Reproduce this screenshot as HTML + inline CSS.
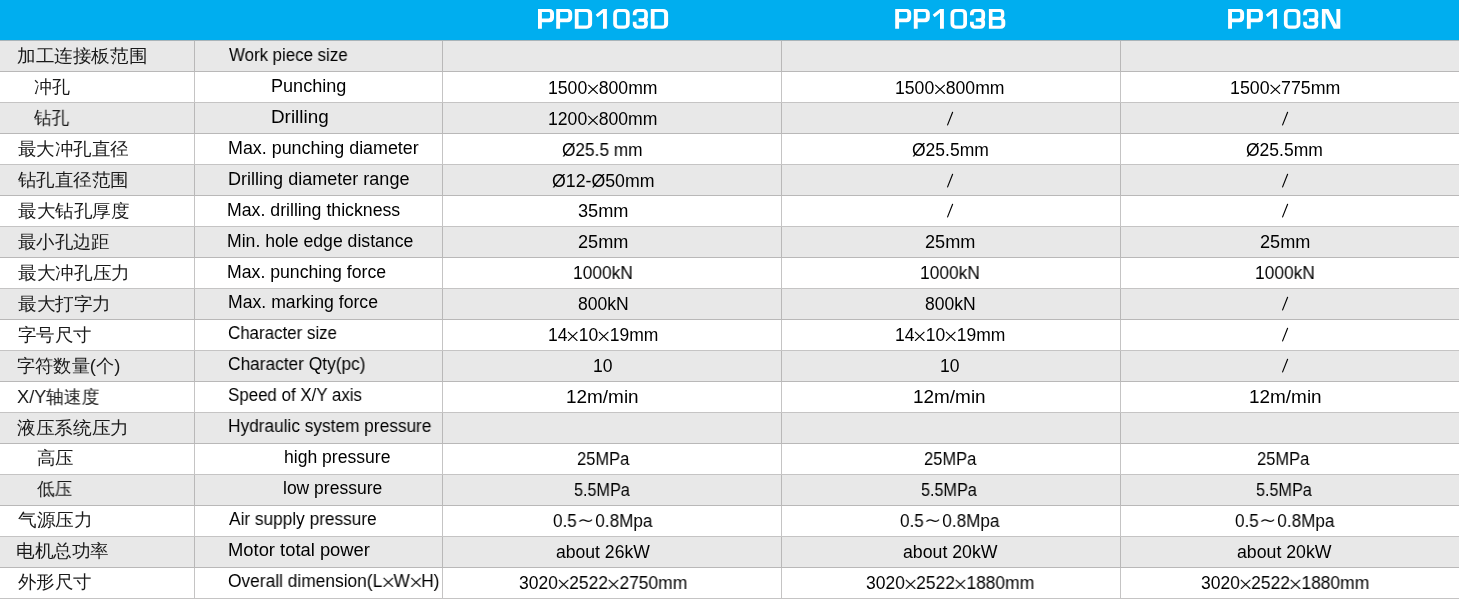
<!DOCTYPE html>
<html><head><meta charset="utf-8"><style>
html,body{margin:0;padding:0;background:#fff;width:1460px;height:601px;overflow:hidden;position:relative}
.hdr{position:absolute;left:0;top:0;width:1459px;height:40px;background:#00aeef}
.row{position:absolute;left:0;width:1459px;height:31px;background:#e8e8e8}
.hl{position:absolute;left:0;width:1459px;height:1px;background:#c4c4c4}
.vl{position:absolute;top:40px;width:1px;height:559px;background:#c4c4c4}
.t{position:absolute;white-space:nowrap;font-family:"Liberation Sans",sans-serif;color:#000000;line-height:20px;transform-origin:0 0;will-change:transform}
.en,.da{font-size:17.5px}
.xs{vertical-align:-0.4px}
.ts{vertical-align:3.7px}
.sl{vertical-align:-1px}
.cn{font-size:18.3px;font-weight:400;color:#1a1a1a}
</style></head><body>
<div class="hdr"></div>

<div class="row" style="top:40px"></div>
<div class="row" style="top:102px"></div>
<div class="row" style="top:164px"></div>
<div class="row" style="top:226px"></div>
<div class="row" style="top:288px"></div>
<div class="row" style="top:350px"></div>
<div class="row" style="top:412px"></div>
<div class="row" style="top:474px"></div>
<div class="row" style="top:536px"></div>
<div class="hl" style="top:40px;background:#a9b4b9"></div>
<div class="hl" style="top:71px;background:#b9b8b8"></div>
<div class="hl" style="top:102px;background:#c5c4c4"></div>
<div class="hl" style="top:133px;background:#b9b8b8"></div>
<div class="hl" style="top:164px;background:#c5c4c4"></div>
<div class="hl" style="top:195px;background:#b9b8b8"></div>
<div class="hl" style="top:226px;background:#c5c4c4"></div>
<div class="hl" style="top:257px;background:#b9b8b8"></div>
<div class="hl" style="top:288px;background:#c5c4c4"></div>
<div class="hl" style="top:319px;background:#b9b8b8"></div>
<div class="hl" style="top:350px;background:#c5c4c4"></div>
<div class="hl" style="top:381px;background:#b9b8b8"></div>
<div class="hl" style="top:412px;background:#c5c4c4"></div>
<div class="hl" style="top:443px;background:#b9b8b8"></div>
<div class="hl" style="top:474px;background:#c5c4c4"></div>
<div class="hl" style="top:505px;background:#b9b8b8"></div>
<div class="hl" style="top:536px;background:#c5c4c4"></div>
<div class="hl" style="top:567px;background:#b9b8b8"></div>
<div class="hl" style="top:598px;background:#c5c4c4"></div>
<div class="vl" style="left:194px;top:41px;height:30px;background:#b9b8b8"></div>
<div class="vl" style="left:442px;top:41px;height:30px;background:#b9b8b8"></div>
<div class="vl" style="left:781px;top:41px;height:30px;background:#b9b8b8"></div>
<div class="vl" style="left:1120px;top:41px;height:30px;background:#b9b8b8"></div>
<div class="vl" style="left:194px;top:72px;height:30px;background:#c5c4c4"></div>
<div class="vl" style="left:442px;top:72px;height:30px;background:#c5c4c4"></div>
<div class="vl" style="left:781px;top:72px;height:30px;background:#c5c4c4"></div>
<div class="vl" style="left:1120px;top:72px;height:30px;background:#c5c4c4"></div>
<div class="vl" style="left:194px;top:103px;height:30px;background:#b9b8b8"></div>
<div class="vl" style="left:442px;top:103px;height:30px;background:#b9b8b8"></div>
<div class="vl" style="left:781px;top:103px;height:30px;background:#b9b8b8"></div>
<div class="vl" style="left:1120px;top:103px;height:30px;background:#b9b8b8"></div>
<div class="vl" style="left:194px;top:134px;height:30px;background:#c5c4c4"></div>
<div class="vl" style="left:442px;top:134px;height:30px;background:#c5c4c4"></div>
<div class="vl" style="left:781px;top:134px;height:30px;background:#c5c4c4"></div>
<div class="vl" style="left:1120px;top:134px;height:30px;background:#c5c4c4"></div>
<div class="vl" style="left:194px;top:165px;height:30px;background:#b9b8b8"></div>
<div class="vl" style="left:442px;top:165px;height:30px;background:#b9b8b8"></div>
<div class="vl" style="left:781px;top:165px;height:30px;background:#b9b8b8"></div>
<div class="vl" style="left:1120px;top:165px;height:30px;background:#b9b8b8"></div>
<div class="vl" style="left:194px;top:196px;height:30px;background:#c5c4c4"></div>
<div class="vl" style="left:442px;top:196px;height:30px;background:#c5c4c4"></div>
<div class="vl" style="left:781px;top:196px;height:30px;background:#c5c4c4"></div>
<div class="vl" style="left:1120px;top:196px;height:30px;background:#c5c4c4"></div>
<div class="vl" style="left:194px;top:227px;height:30px;background:#b9b8b8"></div>
<div class="vl" style="left:442px;top:227px;height:30px;background:#b9b8b8"></div>
<div class="vl" style="left:781px;top:227px;height:30px;background:#b9b8b8"></div>
<div class="vl" style="left:1120px;top:227px;height:30px;background:#b9b8b8"></div>
<div class="vl" style="left:194px;top:258px;height:30px;background:#c5c4c4"></div>
<div class="vl" style="left:442px;top:258px;height:30px;background:#c5c4c4"></div>
<div class="vl" style="left:781px;top:258px;height:30px;background:#c5c4c4"></div>
<div class="vl" style="left:1120px;top:258px;height:30px;background:#c5c4c4"></div>
<div class="vl" style="left:194px;top:289px;height:30px;background:#b9b8b8"></div>
<div class="vl" style="left:442px;top:289px;height:30px;background:#b9b8b8"></div>
<div class="vl" style="left:781px;top:289px;height:30px;background:#b9b8b8"></div>
<div class="vl" style="left:1120px;top:289px;height:30px;background:#b9b8b8"></div>
<div class="vl" style="left:194px;top:320px;height:30px;background:#c5c4c4"></div>
<div class="vl" style="left:442px;top:320px;height:30px;background:#c5c4c4"></div>
<div class="vl" style="left:781px;top:320px;height:30px;background:#c5c4c4"></div>
<div class="vl" style="left:1120px;top:320px;height:30px;background:#c5c4c4"></div>
<div class="vl" style="left:194px;top:351px;height:30px;background:#b9b8b8"></div>
<div class="vl" style="left:442px;top:351px;height:30px;background:#b9b8b8"></div>
<div class="vl" style="left:781px;top:351px;height:30px;background:#b9b8b8"></div>
<div class="vl" style="left:1120px;top:351px;height:30px;background:#b9b8b8"></div>
<div class="vl" style="left:194px;top:382px;height:30px;background:#c5c4c4"></div>
<div class="vl" style="left:442px;top:382px;height:30px;background:#c5c4c4"></div>
<div class="vl" style="left:781px;top:382px;height:30px;background:#c5c4c4"></div>
<div class="vl" style="left:1120px;top:382px;height:30px;background:#c5c4c4"></div>
<div class="vl" style="left:194px;top:413px;height:30px;background:#b9b8b8"></div>
<div class="vl" style="left:442px;top:413px;height:30px;background:#b9b8b8"></div>
<div class="vl" style="left:781px;top:413px;height:30px;background:#b9b8b8"></div>
<div class="vl" style="left:1120px;top:413px;height:30px;background:#b9b8b8"></div>
<div class="vl" style="left:194px;top:444px;height:30px;background:#c5c4c4"></div>
<div class="vl" style="left:442px;top:444px;height:30px;background:#c5c4c4"></div>
<div class="vl" style="left:781px;top:444px;height:30px;background:#c5c4c4"></div>
<div class="vl" style="left:1120px;top:444px;height:30px;background:#c5c4c4"></div>
<div class="vl" style="left:194px;top:475px;height:30px;background:#b9b8b8"></div>
<div class="vl" style="left:442px;top:475px;height:30px;background:#b9b8b8"></div>
<div class="vl" style="left:781px;top:475px;height:30px;background:#b9b8b8"></div>
<div class="vl" style="left:1120px;top:475px;height:30px;background:#b9b8b8"></div>
<div class="vl" style="left:194px;top:506px;height:30px;background:#c5c4c4"></div>
<div class="vl" style="left:442px;top:506px;height:30px;background:#c5c4c4"></div>
<div class="vl" style="left:781px;top:506px;height:30px;background:#c5c4c4"></div>
<div class="vl" style="left:1120px;top:506px;height:30px;background:#c5c4c4"></div>
<div class="vl" style="left:194px;top:537px;height:30px;background:#b9b8b8"></div>
<div class="vl" style="left:442px;top:537px;height:30px;background:#b9b8b8"></div>
<div class="vl" style="left:781px;top:537px;height:30px;background:#b9b8b8"></div>
<div class="vl" style="left:1120px;top:537px;height:30px;background:#b9b8b8"></div>
<div class="vl" style="left:194px;top:568px;height:30px;background:#c5c4c4"></div>
<div class="vl" style="left:442px;top:568px;height:30px;background:#c5c4c4"></div>
<div class="vl" style="left:781px;top:568px;height:30px;background:#c5c4c4"></div>
<div class="vl" style="left:1120px;top:568px;height:30px;background:#c5c4c4"></div>
<svg style="position:absolute;left:0;top:0" width="1460" height="40" viewBox="0 0 1460 40"><g fill="#fff" fill-rule="evenodd"><path transform="translate(538.0,8.9) scale(1,0.995)" d="M0,0H11.6A4.4,4.4 0 0 1 16,4.4V9A4.4,4.4 0 0 1 11.6,13.4H3.9V20H0ZM3.9,3.2H10.6A1.5,1.5 0 0 1 12.1,4.7V8.1A1.5,1.5 0 0 1 10.6,9.6H3.9Z"/><path transform="translate(556.2,8.9) scale(1,0.995)" d="M0,0H11.6A4.4,4.4 0 0 1 16,4.4V9A4.4,4.4 0 0 1 11.6,13.4H3.9V20H0ZM3.9,3.2H10.6A1.5,1.5 0 0 1 12.1,4.7V8.1A1.5,1.5 0 0 1 10.6,9.6H3.9Z"/><path transform="translate(574.8,8.9) scale(1,0.995)" d="M0,0H12.3A5,5 0 0 1 17.3,5V15A5,5 0 0 1 12.3,20H0ZM3.8,3.2H11.3A2,2 0 0 1 13.3,5.2V14.8A2,2 0 0 1 11.3,16.8H3.8Z"/><path transform="translate(595.7,8.9) scale(1,0.995)" d="M0,6L7.3,0H11.2V20H7.3V3.9L1.9,8.3Z"/><path transform="translate(613.2,8.9) scale(1,0.995)" d="M5,0H11.5A5,5 0 0 1 16.5,5V15A5,5 0 0 1 11.5,20H5A5,5 0 0 1 0,15V5A5,5 0 0 1 5,0ZM5.7,3.2H10.8A2,2 0 0 1 12.8,5.2V14.8A2,2 0 0 1 10.8,16.8H5.7A2,2 0 0 1 3.7,14.8V5.2A2,2 0 0 1 5.7,3.2Z"/><path transform="translate(632.8,8.9) scale(1,0.995)" d="M0,4.5A4.5,4.5 0 0 1 4.5,0H10.6A4.5,4.5 0 0 1 15.1,4.5V8.2Q15.1,9.6 14.3,10.9Q15.1,12.2 15.1,13.6V15.5A4.5,4.5 0 0 1 10.6,20H4.5A4.5,4.5 0 0 1 0,15.5V13H3.7V14.8A2,2 0 0 0 5.7,16.8H9.9A1.5,1.5 0 0 0 11.4,15.3V14.5A1.5,1.5 0 0 0 9.9,13H5.8V9.5H9.9A1.5,1.5 0 0 0 11.4,8V4.7A1.5,1.5 0 0 0 9.9,3.2H5.7A2,2 0 0 0 3.7,5.2V6.5H0Z"/><path transform="translate(650.8,8.9) scale(1,0.995)" d="M0,0H12.3A5,5 0 0 1 17.3,5V15A5,5 0 0 1 12.3,20H0ZM3.8,3.2H11.3A2,2 0 0 1 13.3,5.2V14.8A2,2 0 0 1 11.3,16.8H3.8Z"/><path transform="translate(895.2,8.9) scale(1,0.995)" d="M0,0H11.6A4.4,4.4 0 0 1 16,4.4V9A4.4,4.4 0 0 1 11.6,13.4H3.9V20H0ZM3.9,3.2H10.6A1.5,1.5 0 0 1 12.1,4.7V8.1A1.5,1.5 0 0 1 10.6,9.6H3.9Z"/><path transform="translate(913.8,8.9) scale(1,0.995)" d="M0,0H11.6A4.4,4.4 0 0 1 16,4.4V9A4.4,4.4 0 0 1 11.6,13.4H3.9V20H0ZM3.9,3.2H10.6A1.5,1.5 0 0 1 12.1,4.7V8.1A1.5,1.5 0 0 1 10.6,9.6H3.9Z"/><path transform="translate(932.7,8.9) scale(1,0.995)" d="M0,6L7.3,0H11.2V20H7.3V3.9L1.9,8.3Z"/><path transform="translate(950.5,8.9) scale(1,0.995)" d="M5,0H11.5A5,5 0 0 1 16.5,5V15A5,5 0 0 1 11.5,20H5A5,5 0 0 1 0,15V5A5,5 0 0 1 5,0ZM5.7,3.2H10.8A2,2 0 0 1 12.8,5.2V14.8A2,2 0 0 1 10.8,16.8H5.7A2,2 0 0 1 3.7,14.8V5.2A2,2 0 0 1 5.7,3.2Z"/><path transform="translate(970.0,8.9) scale(1,0.995)" d="M0,4.5A4.5,4.5 0 0 1 4.5,0H10.6A4.5,4.5 0 0 1 15.1,4.5V8.2Q15.1,9.6 14.3,10.9Q15.1,12.2 15.1,13.6V15.5A4.5,4.5 0 0 1 10.6,20H4.5A4.5,4.5 0 0 1 0,15.5V13H3.7V14.8A2,2 0 0 0 5.7,16.8H9.9A1.5,1.5 0 0 0 11.4,15.3V14.5A1.5,1.5 0 0 0 9.9,13H5.8V9.5H9.9A1.5,1.5 0 0 0 11.4,8V4.7A1.5,1.5 0 0 0 9.9,3.2H5.7A2,2 0 0 0 3.7,5.2V6.5H0Z"/><path transform="translate(988.9,8.9) scale(1,0.995)" d="M0,0H11.4A4,4 0 0 1 15.4,4V6.6A3,3 0 0 1 13.4,9.5A3.4,3.4 0 0 1 16.4,12.9V15.6A4.4,4.4 0 0 1 12,20H0ZM3.6,3.1H10.6A1.5,1.5 0 0 1 12.1,4.6V6.5A1.5,1.5 0 0 1 10.6,8H3.6ZM3.6,11.1H11A1.5,1.5 0 0 1 12.5,12.6V15.4A1.5,1.5 0 0 1 11,16.9H3.6Z"/><path transform="translate(1228.1,8.9) scale(1,0.995)" d="M0,0H11.6A4.4,4.4 0 0 1 16,4.4V9A4.4,4.4 0 0 1 11.6,13.4H3.9V20H0ZM3.9,3.2H10.6A1.5,1.5 0 0 1 12.1,4.7V8.1A1.5,1.5 0 0 1 10.6,9.6H3.9Z"/><path transform="translate(1246.9,8.9) scale(1,0.995)" d="M0,0H11.6A4.4,4.4 0 0 1 16,4.4V9A4.4,4.4 0 0 1 11.6,13.4H3.9V20H0ZM3.9,3.2H10.6A1.5,1.5 0 0 1 12.1,4.7V8.1A1.5,1.5 0 0 1 10.6,9.6H3.9Z"/><path transform="translate(1265.8,8.9) scale(1,0.995)" d="M0,6L7.3,0H11.2V20H7.3V3.9L1.9,8.3Z"/><path transform="translate(1283.9,8.9) scale(1,0.995)" d="M5,0H11.5A5,5 0 0 1 16.5,5V15A5,5 0 0 1 11.5,20H5A5,5 0 0 1 0,15V5A5,5 0 0 1 5,0ZM5.7,3.2H10.8A2,2 0 0 1 12.8,5.2V14.8A2,2 0 0 1 10.8,16.8H5.7A2,2 0 0 1 3.7,14.8V5.2A2,2 0 0 1 5.7,3.2Z"/><path transform="translate(1303.2,8.9) scale(1,0.995)" d="M0,4.5A4.5,4.5 0 0 1 4.5,0H10.6A4.5,4.5 0 0 1 15.1,4.5V8.2Q15.1,9.6 14.3,10.9Q15.1,12.2 15.1,13.6V15.5A4.5,4.5 0 0 1 10.6,20H4.5A4.5,4.5 0 0 1 0,15.5V13H3.7V14.8A2,2 0 0 0 5.7,16.8H9.9A1.5,1.5 0 0 0 11.4,15.3V14.5A1.5,1.5 0 0 0 9.9,13H5.8V9.5H9.9A1.5,1.5 0 0 0 11.4,8V4.7A1.5,1.5 0 0 0 9.9,3.2H5.7A2,2 0 0 0 3.7,5.2V6.5H0Z"/><path transform="translate(1321.9,8.9) scale(1,0.995)" d="M0,0H6.5L14.5,16.2V0H18.4V20H11.9L3.7,3.6V20H0Z"/></g></svg>
<div class="t cn" style="left:17.19px;top:46.00px;transform:scaleX(1.0347)">加工连接板范围</div>
<div class="t en" style="left:228.60px;top:45.00px;transform:scaleX(0.9629)">Work piece size</div>
<div class="t cn" style="left:33.55px;top:76.96px;transform:scaleX(0.9875)">冲孔</div>
<div class="t en" style="left:271.33px;top:76.00px;transform:scaleX(1.0326)">Punching</div>
<div class="t da" style="left:548.16px;top:78.00px;transform:scaleX(1.0079)">1500<svg class="xs" width="11.4" height="10" viewBox="0 0 11.4 10"><path d="M1,0.9L10.4,9.9M10.4,0.9L1,9.9" stroke="currentColor" stroke-width="1.15" fill="none"/></svg>800mm</div>
<div class="t da" style="left:895.16px;top:78.00px;transform:scaleX(1.0079)">1500<svg class="xs" width="11.4" height="10" viewBox="0 0 11.4 10"><path d="M1,0.9L10.4,9.9M10.4,0.9L1,9.9" stroke="currentColor" stroke-width="1.15" fill="none"/></svg>800mm</div>
<div class="t da" style="left:1229.67px;top:78.00px;transform:scaleX(1.0152)">1500<svg class="xs" width="11.4" height="10" viewBox="0 0 11.4 10"><path d="M1,0.9L10.4,9.9M10.4,0.9L1,9.9" stroke="currentColor" stroke-width="1.15" fill="none"/></svg>775mm</div>
<div class="t cn" style="left:33.71px;top:107.92px;transform:scaleX(0.9776)">钻孔</div>
<div class="t en" style="left:271.25px;top:107.00px;transform:scaleX(1.0778)">Drilling</div>
<div class="t da" style="left:548.24px;top:109.00px;transform:scaleX(1.0069)">1200<svg class="xs" width="11.4" height="10" viewBox="0 0 11.4 10"><path d="M1,0.9L10.4,9.9M10.4,0.9L1,9.9" stroke="currentColor" stroke-width="1.15" fill="none"/></svg>800mm</div>
<div class="t da" style="left:945.90px;top:109.00px"><svg class="sl" width="8" height="15" viewBox="0 0 8 15"><path d="M6.6,1.3L1.6,13.9" stroke="currentColor" stroke-width="1.15" stroke-linecap="round" fill="none"/></svg></div>
<div class="t da" style="left:1280.50px;top:109.00px"><svg class="sl" width="8" height="15" viewBox="0 0 8 15"><path d="M6.6,1.3L1.6,13.9" stroke="currentColor" stroke-width="1.15" stroke-linecap="round" fill="none"/></svg></div>
<div class="t cn" style="left:18.00px;top:138.88px;transform:scaleX(1.0267)">最大冲孔直径</div>
<div class="t en" style="left:227.60px;top:138.00px;transform:scaleX(1.0212)">Max. punching diameter</div>
<div class="t da" style="left:562.37px;top:140.00px;transform:scaleX(0.9868)">Ø25.5 mm</div>
<div class="t da" style="left:911.53px;top:140.00px;transform:scaleX(0.9956)">Ø25.5mm</div>
<div class="t da" style="left:1246.11px;top:140.00px;transform:scaleX(0.9956)">Ø25.5mm</div>
<div class="t cn" style="left:18.32px;top:169.84px;transform:scaleX(1.0272)">钻孔直径范围</div>
<div class="t en" style="left:227.82px;top:169.00px;transform:scaleX(1.0306)">Drilling diameter range</div>
<div class="t da" style="left:551.73px;top:171.00px;transform:scaleX(1.0134)">Ø12-Ø50mm</div>
<div class="t da" style="left:945.90px;top:171.00px"><svg class="sl" width="8" height="15" viewBox="0 0 8 15"><path d="M6.6,1.3L1.6,13.9" stroke="currentColor" stroke-width="1.15" stroke-linecap="round" fill="none"/></svg></div>
<div class="t da" style="left:1280.50px;top:171.00px"><svg class="sl" width="8" height="15" viewBox="0 0 8 15"><path d="M6.6,1.3L1.6,13.9" stroke="currentColor" stroke-width="1.15" stroke-linecap="round" fill="none"/></svg></div>
<div class="t cn" style="left:18.00px;top:200.80px;transform:scaleX(1.0309)">最大钻孔厚度</div>
<div class="t en" style="left:227.27px;top:200.00px;transform:scaleX(1.0118)">Max. drilling thickness</div>
<div class="t da" style="left:577.63px;top:201.00px;transform:scaleX(1.0386)">35mm</div>
<div class="t da" style="left:945.90px;top:201.00px"><svg class="sl" width="8" height="15" viewBox="0 0 8 15"><path d="M6.6,1.3L1.6,13.9" stroke="currentColor" stroke-width="1.15" stroke-linecap="round" fill="none"/></svg></div>
<div class="t da" style="left:1280.50px;top:201.00px"><svg class="sl" width="8" height="15" viewBox="0 0 8 15"><path d="M6.6,1.3L1.6,13.9" stroke="currentColor" stroke-width="1.15" stroke-linecap="round" fill="none"/></svg></div>
<div class="t cn" style="left:18.06px;top:231.76px;transform:scaleX(1.0202)">最小孔边距</div>
<div class="t en" style="left:227.39px;top:231.00px;transform:scaleX(1.0077)">Min. hole edge distance</div>
<div class="t da" style="left:577.70px;top:232.00px;transform:scaleX(1.0364)">25mm</div>
<div class="t da" style="left:924.70px;top:232.00px;transform:scaleX(1.0364)">25mm</div>
<div class="t da" style="left:1259.51px;top:232.00px;transform:scaleX(1.0362)">25mm</div>
<div class="t cn" style="left:17.84px;top:262.72px;transform:scaleX(1.0384)">最大冲孔压力</div>
<div class="t en" style="left:227.26px;top:262.00px;transform:scaleX(1.0096)">Max. punching force</div>
<div class="t da" style="left:573.02px;top:263.00px;transform:scaleX(0.9905)">1000kN</div>
<div class="t da" style="left:920.02px;top:263.00px;transform:scaleX(0.9905)">1000kN</div>
<div class="t da" style="left:1254.68px;top:263.00px;transform:scaleX(0.9907)">1000kN</div>
<div class="t cn" style="left:17.98px;top:293.68px;transform:scaleX(1.0341)">最大打字力</div>
<div class="t en" style="left:227.58px;top:292.00px;transform:scaleX(1.0080)">Max. marking force</div>
<div class="t da" style="left:577.73px;top:294.00px;transform:scaleX(1.0025)">800kN</div>
<div class="t da" style="left:924.73px;top:294.00px;transform:scaleX(1.0025)">800kN</div>
<div class="t da" style="left:1280.50px;top:294.00px"><svg class="sl" width="8" height="15" viewBox="0 0 8 15"><path d="M6.6,1.3L1.6,13.9" stroke="currentColor" stroke-width="1.15" stroke-linecap="round" fill="none"/></svg></div>
<div class="t cn" style="left:17.77px;top:324.64px;transform:scaleX(1.0258)">字号尺寸</div>
<div class="t en" style="left:228.05px;top:323.00px;transform:scaleX(0.9660)">Character size</div>
<div class="t da" style="left:547.65px;top:325.00px;transform:scaleX(0.9956)">14<svg class="xs" width="11.4" height="10" viewBox="0 0 11.4 10"><path d="M1,0.9L10.4,9.9M10.4,0.9L1,9.9" stroke="currentColor" stroke-width="1.15" fill="none"/></svg>10<svg class="xs" width="11.4" height="10" viewBox="0 0 11.4 10"><path d="M1,0.9L10.4,9.9M10.4,0.9L1,9.9" stroke="currentColor" stroke-width="1.15" fill="none"/></svg>19mm</div>
<div class="t da" style="left:894.65px;top:325.00px;transform:scaleX(0.9956)">14<svg class="xs" width="11.4" height="10" viewBox="0 0 11.4 10"><path d="M1,0.9L10.4,9.9M10.4,0.9L1,9.9" stroke="currentColor" stroke-width="1.15" fill="none"/></svg>10<svg class="xs" width="11.4" height="10" viewBox="0 0 11.4 10"><path d="M1,0.9L10.4,9.9M10.4,0.9L1,9.9" stroke="currentColor" stroke-width="1.15" fill="none"/></svg>19mm</div>
<div class="t da" style="left:1280.50px;top:325.00px"><svg class="sl" width="8" height="15" viewBox="0 0 8 15"><path d="M6.6,1.3L1.6,13.9" stroke="currentColor" stroke-width="1.15" stroke-linecap="round" fill="none"/></svg></div>
<div class="t cn" style="left:17.37px;top:355.60px;transform:scaleX(1.0110)">字符数量(个)</div>
<div class="t en" style="left:228.01px;top:354.00px;transform:scaleX(0.9884)">Character Qty(pc)</div>
<div class="t da" style="left:593.17px;top:356.00px;transform:scaleX(0.9759)">10</div>
<div class="t da" style="left:940.17px;top:356.00px;transform:scaleX(0.9759)">10</div>
<div class="t da" style="left:1280.50px;top:356.00px"><svg class="sl" width="8" height="15" viewBox="0 0 8 15"><path d="M6.6,1.3L1.6,13.9" stroke="currentColor" stroke-width="1.15" stroke-linecap="round" fill="none"/></svg></div>
<div class="t cn" style="left:17.43px;top:386.56px;transform:scaleX(0.9938)">X/Y轴速度</div>
<div class="t en" style="left:227.95px;top:385.00px;transform:scaleX(0.9648)">Speed of X/Y axis</div>
<div class="t da" style="left:566.40px;top:387.00px;transform:scaleX(1.0824)">12m/min</div>
<div class="t da" style="left:913.40px;top:387.00px;transform:scaleX(1.0824)">12m/min</div>
<div class="t da" style="left:1248.55px;top:387.00px;transform:scaleX(1.0824)">12m/min</div>
<div class="t cn" style="left:17.49px;top:417.52px;transform:scaleX(1.0377)">液压系统压力</div>
<div class="t en" style="left:227.51px;top:416.00px;transform:scaleX(0.9864)">Hydraulic system pressure</div>
<div class="t cn" style="left:36.95px;top:448.48px;transform:scaleX(1.0260)">高压</div>
<div class="t en" style="left:283.56px;top:447.00px;transform:scaleX(1.0040)">high pressure</div>
<div class="t da" style="left:576.59px;top:449.00px;transform:scaleX(0.9427)">25MPa</div>
<div class="t da" style="left:923.59px;top:449.00px;transform:scaleX(0.9427)">25MPa</div>
<div class="t da" style="left:1257.49px;top:449.00px;transform:scaleX(0.9421)">25MPa</div>
<div class="t cn" style="left:37.47px;top:479.44px;transform:scaleX(0.9800)">低压</div>
<div class="t en" style="left:283.44px;top:478.00px;transform:scaleX(0.9950)">low pressure</div>
<div class="t da" style="left:574.36px;top:480.00px;transform:scaleX(0.9258)">5.5MPa</div>
<div class="t da" style="left:921.36px;top:480.00px;transform:scaleX(0.9258)">5.5MPa</div>
<div class="t da" style="left:1256.04px;top:480.00px;transform:scaleX(0.9259)">5.5MPa</div>
<div class="t cn" style="left:17.58px;top:510.40px;transform:scaleX(1.0388)">气源压力</div>
<div class="t en" style="left:228.73px;top:509.00px;transform:scaleX(0.9859)">Air supply pressure</div>
<div class="t da" style="left:552.51px;top:511.00px;transform:scaleX(0.9768)">0.5<svg class="ts" width="19" height="5" viewBox="0 0 19 5"><path d="M3,3.6C5,1.6 7,1.4 9.5,2.6S14,3.6 16,1.6" stroke="currentColor" stroke-width="1.2" fill="none"/></svg>0.8Mpa</div>
<div class="t da" style="left:899.51px;top:511.00px;transform:scaleX(0.9768)">0.5<svg class="ts" width="19" height="5" viewBox="0 0 19 5"><path d="M3,3.6C5,1.6 7,1.4 9.5,2.6S14,3.6 16,1.6" stroke="currentColor" stroke-width="1.2" fill="none"/></svg>0.8Mpa</div>
<div class="t da" style="left:1234.65px;top:511.00px;transform:scaleX(0.9768)">0.5<svg class="ts" width="19" height="5" viewBox="0 0 19 5"><path d="M3,3.6C5,1.6 7,1.4 9.5,2.6S14,3.6 16,1.6" stroke="currentColor" stroke-width="1.2" fill="none"/></svg>0.8Mpa</div>
<div class="t cn" style="left:16.46px;top:541.36px;transform:scaleX(1.0338)">电机总功率</div>
<div class="t en" style="left:227.66px;top:540.00px;transform:scaleX(1.0499)">Motor total power</div>
<div class="t da" style="left:555.59px;top:542.00px;transform:scaleX(1.0044)">about 26kW</div>
<div class="t da" style="left:902.66px;top:542.00px;transform:scaleX(1.0124)">about 20kW</div>
<div class="t da" style="left:1237.03px;top:542.00px;transform:scaleX(1.0124)">about 20kW</div>
<div class="t cn" style="left:17.51px;top:572.32px;transform:scaleX(1.0264)">外形尺寸</div>
<div class="t en" style="left:228.49px;top:571.00px;transform:scaleX(0.9910)">Overall dimension(L<svg class="xs" width="11.4" height="10" viewBox="0 0 11.4 10"><path d="M1,0.9L10.4,9.9M10.4,0.9L1,9.9" stroke="currentColor" stroke-width="1.15" fill="none"/></svg>W<svg class="xs" width="11.4" height="10" viewBox="0 0 11.4 10"><path d="M1,0.9L10.4,9.9M10.4,0.9L1,9.9" stroke="currentColor" stroke-width="1.15" fill="none"/></svg>H)</div>
<div class="t da" style="left:518.55px;top:573.00px;transform:scaleX(0.9969)">3020<svg class="xs" width="11.4" height="10" viewBox="0 0 11.4 10"><path d="M1,0.9L10.4,9.9M10.4,0.9L1,9.9" stroke="currentColor" stroke-width="1.15" fill="none"/></svg>2522<svg class="xs" width="11.4" height="10" viewBox="0 0 11.4 10"><path d="M1,0.9L10.4,9.9M10.4,0.9L1,9.9" stroke="currentColor" stroke-width="1.15" fill="none"/></svg>2750mm</div>
<div class="t da" style="left:865.91px;top:573.00px;transform:scaleX(0.9967)">3020<svg class="xs" width="11.4" height="10" viewBox="0 0 11.4 10"><path d="M1,0.9L10.4,9.9M10.4,0.9L1,9.9" stroke="currentColor" stroke-width="1.15" fill="none"/></svg>2522<svg class="xs" width="11.4" height="10" viewBox="0 0 11.4 10"><path d="M1,0.9L10.4,9.9M10.4,0.9L1,9.9" stroke="currentColor" stroke-width="1.15" fill="none"/></svg>1880mm</div>
<div class="t da" style="left:1200.69px;top:573.00px;transform:scaleX(0.9968)">3020<svg class="xs" width="11.4" height="10" viewBox="0 0 11.4 10"><path d="M1,0.9L10.4,9.9M10.4,0.9L1,9.9" stroke="currentColor" stroke-width="1.15" fill="none"/></svg>2522<svg class="xs" width="11.4" height="10" viewBox="0 0 11.4 10"><path d="M1,0.9L10.4,9.9M10.4,0.9L1,9.9" stroke="currentColor" stroke-width="1.15" fill="none"/></svg>1880mm</div>
</body></html>
